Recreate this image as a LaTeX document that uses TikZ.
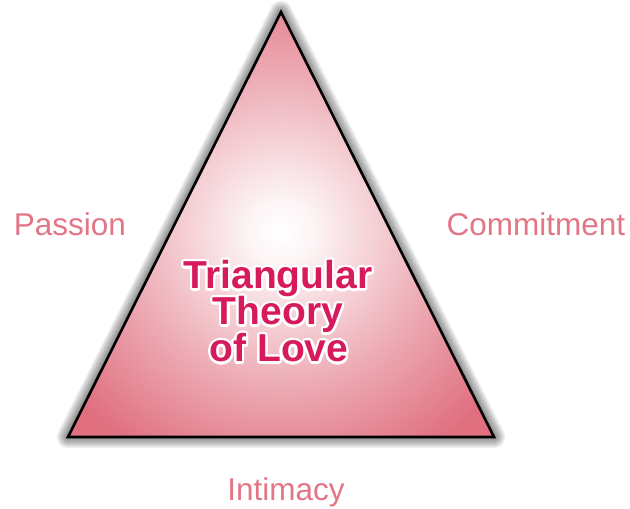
\documentclass[tikz,border=0pt]{standalone}
\usepackage{fontspec}
\setmainfont{Liberation Sans}
\usepackage{contour}
\contourlength{2.2pt}
\contournumber{24}
\definecolor{pinkc}{RGB}{224,112,128}
\definecolor{labelc}{RGB}{226,118,134}
\definecolor{titlec}{RGB}{214,26,92}
\pgfdeclareradialshading{trishade}{\pgfpoint{0bp}{-1bp}}{%
  color(0bp)=(white);
  color(4bp)=(white!92!pinkc);
  color(18bp)=(white!42!pinkc);
  color(31bp)=(pinkc);
  color(50bp)=(pinkc)}
\tikzset{
  lbl/.style={text=labelc, font=\fontsize{31.5}{31.5}\selectfont, anchor=base, inner sep=0pt},
  ttl/.style={text=titlec, font=\fontsize{39}{39}\selectfont\bfseries, anchor=base, inner sep=0pt},
}
\begin{document}
\begin{tikzpicture}[x=1pt,y=1pt]
\useasboundingbox (0,0) rectangle (630,509);
\coordinate (A) at (281,497);
\coordinate (L) at (68,72);
\coordinate (R) at (494,72);
% blurred shadow
\begin{scope}[shift={(10,-12)}]
\foreach \w in {22,19,16,13,10,7,4,1}{
  \draw[black, opacity=0.075, line width=\w pt, line join=round, fill=black]
    (A) -- (L) -- (R) -- cycle;
}
\end{scope}
% triangle
\shade[shading=trishade] (A) -- (L) -- (R) -- cycle;
\draw[black, line width=2.6pt, line join=miter] (A) -- (L) -- (R) -- cycle;
% title
\node[ttl] (t1) at (278,220) {\contour{white}{Triangular}};
\node[ttl] (t2) at (278,184) {\contour{white}{Theory}};
\node[ttl] (t3) at (279,147) {\contour{white}{of Love}};
% labels
\node[lbl] (passion) at (70,273) {Passion};
\node[lbl] (commit) at (536,273) {Commitment};
\node[lbl] (intim) at (286,8) {Intimacy};
\end{tikzpicture}
\end{document}
